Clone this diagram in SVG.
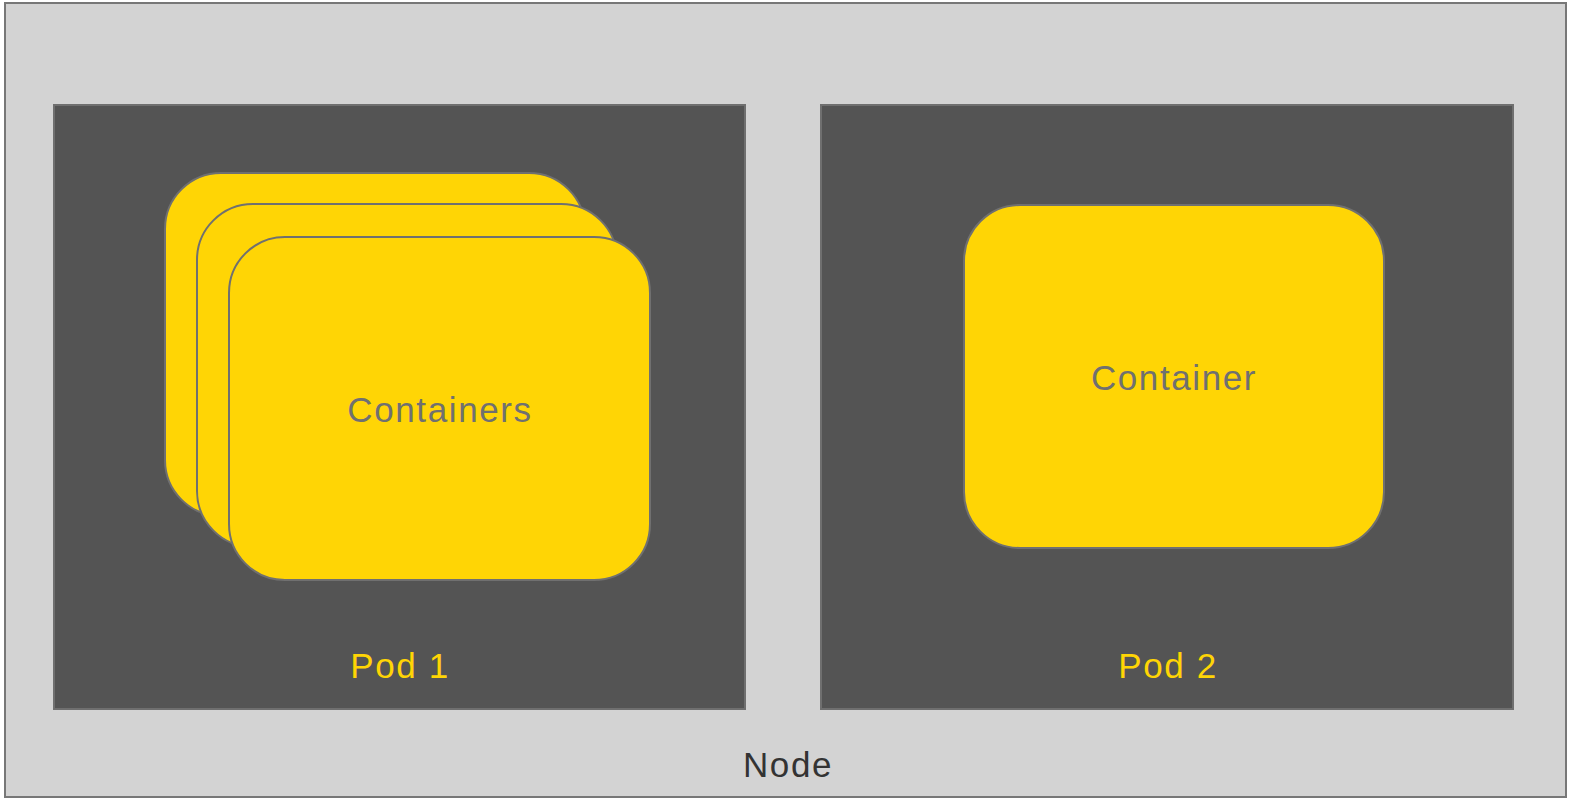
<svg xmlns="http://www.w3.org/2000/svg" width="1569" height="798" viewBox="0 0 1569 798">
<style>
.pod{fill:#545454;stroke:#6f6f6f;stroke-width:2}
.ctr{fill:#ffd505;stroke:#707070;stroke-width:2}
text{font-family:"Liberation Sans",Arial,sans-serif;font-size:35px;text-anchor:middle;letter-spacing:1.6px}
.cl{fill:#707070}
.pl{fill:#ffd505}
.nl{fill:#333333}
</style>
<g id="node">
<rect x="5" y="3" width="1561" height="794" fill="#d3d3d3" stroke="#777777" stroke-width="2"/>
<text class="nl" x="788" y="777">Node</text>
</g>
<g id="pod1">
<rect class="pod" x="54" y="105" width="691" height="604"/>
<text class="pl" x="400" y="678">Pod 1</text>
</g>
<g id="pod1-containers">
<rect class="ctr" x="165" y="173" width="420" height="343" rx="56"/>
<rect class="ctr" x="197" y="204" width="420" height="343" rx="56"/>
<rect class="ctr" x="229" y="237" width="421" height="343" rx="56"/>
<text class="cl" x="440" y="422">Containers</text>
</g>
<g id="pod2">
<rect class="pod" x="821" y="105" width="692" height="604"/>
<text class="pl" x="1168" y="678">Pod 2</text>
</g>
<g id="pod2-container">
<rect class="ctr" x="964" y="205" width="420" height="343" rx="56"/>
<text class="cl" x="1174" y="390">Container</text>
</g>
<g id="connectors"/>
</svg>
